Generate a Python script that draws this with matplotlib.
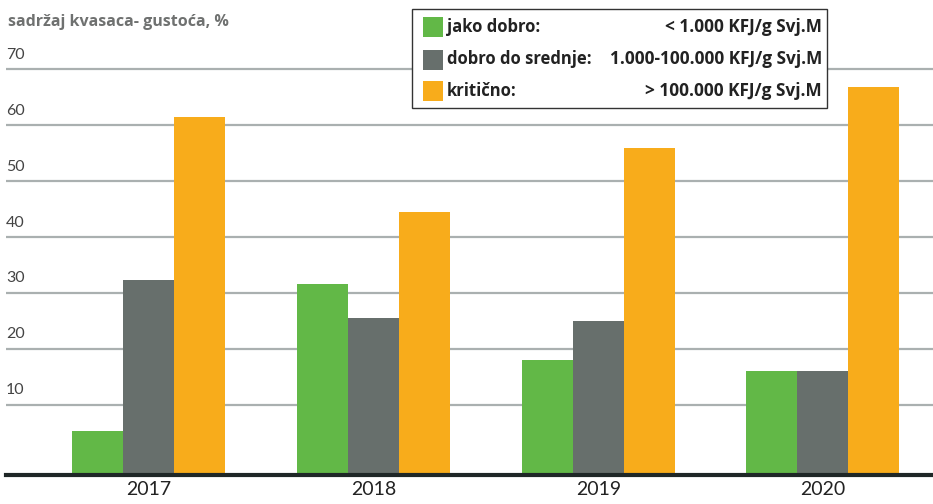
import numpy as np
import matplotlib.pyplot as plt
from matplotlib.patches import Rectangle

# Data (share of samples, %)
years = ["2017", "2018", "2019", "2020"]
jako_dobro = [5.3, 31.5, 18.0, 16.0]
dobro_do_srednje = [32.3, 25.5, 24.9, 16.0]
kriticno = [61.4, 44.4, 55.8, 66.8]

series_names = ["jako dobro:", "dobro do srednje:", "kritično:"]
series_ranges = ["< 1.000 KFJ/g Svj.M", "1.000-100.000 KFJ/g Svj.M", "> 100.000 KFJ/g Svj.M"]
y_ticks = [10, 20, 30, 40, 50, 60, 70]

colors = ["#62b847", "#676f6c", "#f8ac1b"]
plt.rcParams["font.family"] = ["Lato", "DejaVu Sans"]
bold_font = ["Open Sans", "DejaVu Sans"]

fig = plt.figure(figsize=(9.33, 5.04), dpi=100)
ax = fig.add_axes([6 / 933, 29.5 / 504, 1 - 6 / 933, 0.81])

y_min, y_max = -2.5, 70.5
x = np.arange(len(years))
width = 0.227
for i, vals in enumerate([jako_dobro, dobro_do_srednje, kriticno]):
    vals = np.array(vals)
    ax.bar(x + (i - 1) * width, vals - y_min, width, bottom=y_min,
           color=colors[i], zorder=3)

ax.set_ylim(y_min, y_max)
ax.set_xlim(-0.636, 3.49)

for t in y_ticks:
    ax.axhline(t, color="#aab0b0", lw=1.6, zorder=1)
    ax.text(0.0, t + 1.3, str(t), transform=ax.get_yaxis_transform(),
            ha="left", va="bottom", fontsize=11.5, color="#444444")
ax.axhline(y_min, color="#1f2727", lw=3, zorder=4, clip_on=False)

ax.set_yticks([])
ax.set_xticks(x)
ax.set_xticklabels(years, fontsize=14, color="#222222")
ax.tick_params(axis="x", length=0, pad=5)
for s in ax.spines.values():
    s.set_visible(False)

# subtitle
fig.text(8 / 933, 1 - 22 / 504, "sadržaj kvasaca- gustoća, %", fontsize=11.5,
         fontweight="bold", family=bold_font, color="#6f7170", ha="left", va="center")

# legend box drawn by hand (two aligned text columns)
W, H = 933.0, 504.0
fig.patches.append(Rectangle((412 / W, 1 - 108 / H), 415 / W, 99 / H,
                             transform=fig.transFigure, facecolor="white",
                             edgecolor="#333333", lw=1.0, zorder=5))
row_y = [27, 59.5, 91]
for i in range(3):
    yc = 1 - row_y[i] / H
    fig.patches.append(Rectangle((423 / W, yc - 10 / H), 20 / W, 20 / H,
                                 transform=fig.transFigure, facecolor=colors[i],
                                 edgecolor="none", zorder=6))
    fig.text(447 / W, yc, series_names[i], fontsize=12, fontweight="bold",
             family=bold_font, color="#222222", ha="left", va="center", zorder=7)
    fig.text(822 / W, yc, series_ranges[i], fontsize=12.4, fontweight="bold",
             family=bold_font, color="#222222", ha="right", va="center", zorder=7)

fig.savefig("out.png", dpi=100)
